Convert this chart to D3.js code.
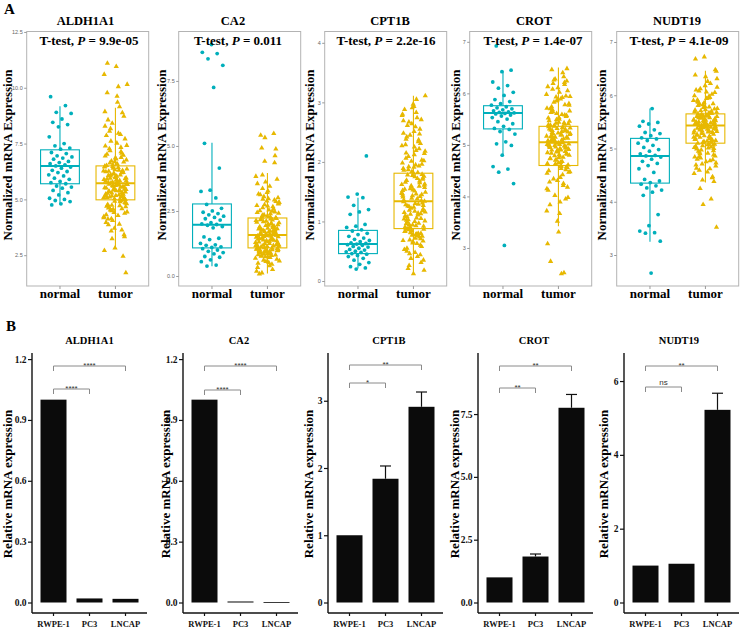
<!DOCTYPE html>
<html><head><meta charset="utf-8">
<script src="https://cdn.jsdelivr.net/npm/d3@7"></script>
<style>body{margin:0;background:#fff}</style>
</head><body><svg id="c" width="740" height="628"></svg>
<script>
// ---------------- DATA ----------------
const genes = ["ALDH1A1","CA2","CPT1B","CROT","NUDT19"];
const groups = ["normal","tumor"];
const pValues = ["9.9e-05","0.011","2.2e-16","1.4e-07","4.1e-09"];
const topTicks = [[2.5,5,7.5,10,12.5],[0,2.5,5,7.5],[0,1,2,3,4],[3,4,5,6,7],[3,4,5,6,7]];
const topTickFmt = [".1f",".1f","d","d","d"];

// box stats: [whiskerLow, Q1, median, Q3, whiskerHigh]
const boxNormal = [[4.76,5.7,6.5,7.22,9.17],[0.37,1.08,1.97,2.77,5.12],[0.21,0.46,0.62,0.85,1.4],[4.81,5.31,5.62,5.76,6.44],[3.25,4.35,4.86,5.19,5.75]];
const boxTumor  = [[2.78,4.98,5.72,6.5,9.1],[0.1,1.08,1.58,2.23,3.96],[0.12,0.88,1.34,1.81,3.11],[3.42,4.6,5.05,5.36,6.5],[4.36,5.1,5.43,5.65,6.46]];

const normal_ALDH1A1 = [9.6,9.2,8.9,8.85,8.6,8.45,8.35,8.25,7.8,7.5,7.4,7.3,7.25,7.1,7.05,6.95,6.9,6.85,6.8,6.7,6.65,6.6,6.55,6.5,6.45,6.4,6.3,6.25,6.2,6.1,6.05,5.95,5.9,5.8,5.75,5.7,5.6,5.55,5.5,5.4,5.3,5.2,5.05,5.0,4.95,4.9,4.8,4.75];
const tumor_ALDH1A1 = [5.62,4.31,6.88,5.15,7.42,5.78,3.86,6.21,5.49,8.93,4.72,6.05,5.33,10.95,5.91,4.58,6.47,5.07,7.96,5.68,3.42,6.33,5.24,4.95,6.72,5.83,9.62,4.12,5.56,6.14,2.71,5.41,7.18,4.86,5.97,6.52,5.12,8.41,4.44,5.71,6.26,5.02,3.71,6.94,5.38,7.61,4.67,5.88,11.1,5.19,6.39,4.23,5.64,8.05,5.46,6.01,3.97,7.33,5.29,4.81,6.58,5.75,2.45,6.17,5.52,9.15,4.53,5.93,6.81,5.09,7.07,4.05,5.67,6.43,5.36,8.72,4.92,5.81,6.09,3.58,5.44,7.52,4.77,6.29,5.59,10.6,5.21,6.63,4.38,5.98,7.86,5.14,3.24,6.36,5.72,4.61,6.98,5.48,8.28,5.01,6.11,4.84,5.86,9.78,5.31,6.55,4.18,5.66,7.27,5.06,2.82,6.24,5.55,4.49,6.77,5.79,8.56,4.97,5.42,6.45,3.89,5.95,7.71,5.17,4.69,6.19,5.61,10.15,4.28,5.35,6.67,5.03,7.39,4.89,5.74,1.71,6.04,5.27,8.88,4.56,5.89,6.31,5.11,3.33,6.86,5.51,7.14,4.74,5.69,9.35,6.07,5.23,4.41,6.49,5.84,8.17,4.99,5.39,7.02,3.63,5.77,6.27,10.05,4.64,5.58,6.69,5.18,7.91,4.13,5.96];
const normal_CA2 = [8.9,8.6,8.55,8.35,8.1,7.25,5.1,4.15,3.3,3.25,3.0,2.75,2.6,2.5,2.45,2.4,2.35,2.3,2.25,2.2,2.15,2.05,2.0,1.98,1.95,1.9,1.85,1.5,1.45,1.4,1.25,1.2,1.18,1.12,1.1,1.05,1.0,0.95,0.9,0.85,0.75,0.72,0.62,0.55,0.42,0.38];
const tumor_CA2 = [1.62,0.84,2.41,1.25,3.12,1.78,0.56,2.07,1.43,3.88,0.97,1.95,1.31,5.48,1.71,0.68,2.28,1.12,2.86,1.55,0.33,2.15,1.38,1.02,2.54,1.83,4.35,0.74,1.49,2.01,0.12,1.36,2.69,1.08,1.88,2.35,1.19,3.45,0.89,1.66,2.11,1.04,0.45,2.62,1.28,2.97,0.93,1.74,5.32,1.16,2.19,0.78,1.58,3.21,1.41,1.92,0.61,2.77,1.33,0.99,2.46,1.61,0.18,2.03,1.47,3.72,0.87,1.81,2.58,1.09,2.83,0.71,1.64,2.24,1.35,3.55,1.01,1.76,1.97,0.52,1.44,2.92,0.95,2.13,1.53,4.92,1.21,2.31,0.82,1.86,3.05,1.14,0.39,2.16,1.69,0.91,2.71,1.46,3.36,1.06,1.99,0.97,1.79,4.41,1.29,2.39,0.76,1.57,2.88,1.11,0.25,2.09,1.51,0.86,2.51,1.73,3.61,1.03,1.39,2.26,0.64,1.84,3.15,1.17,0.93,2.05,1.59,5.41,0.81,1.34,2.44,1.07,2.95,0.98,1.68,0.08,1.91,1.24,3.83,0.88,1.77,2.21,1.13,0.49,2.66,1.52,2.81,0.94,1.63,4.62,1.94,1.22,0.79,2.33,1.82,3.27,1.05,1.37,2.74,0.58,1.72,2.18,4.88,0.96,1.54,2.49,1.18,3.01,0.72,1.89];
const normal_CPT1B = [2.1,1.46,1.41,1.4,1.27,1.2,1.16,1.12,0.95,0.92,0.9,0.86,0.84,0.8,0.78,0.75,0.72,0.7,0.68,0.66,0.64,0.63,0.62,0.61,0.6,0.58,0.57,0.55,0.53,0.52,0.5,0.49,0.48,0.46,0.45,0.43,0.41,0.38,0.35,0.31,0.28,0.24,0.22,0.2];
const tumor_CPT1B = [1.34,0.72,2.15,1.05,2.64,1.52,0.41,1.87,1.21,2.93,0.83,1.68,1.12,3.11,1.46,0.55,2.03,0.94,2.48,1.29,0.26,1.76,1.17,0.89,2.31,1.58,2.78,0.63,1.26,1.71,0.12,1.15,2.22,0.91,1.63,1.95,1.02,2.71,0.77,1.41,1.82,0.86,0.35,2.12,1.09,2.55,0.81,1.48,3.05,0.99,1.79,0.66,1.36,2.37,1.19,1.61,0.48,2.06,1.13,0.85,1.98,1.38,0.21,1.73,1.24,2.88,0.74,1.55,2.18,0.93,2.42,0.58,1.43,1.89,1.14,2.67,0.87,1.51,1.66,0.44,1.22,2.27,0.79,1.78,1.31,2.97,1.04,1.93,0.69,1.57,2.59,0.96,0.31,1.84,1.44,0.76,2.09,1.27,2.51,0.9,1.65,0.82,1.49,2.83,1.08,1.96,0.64,1.33,2.34,0.95,0.18,1.75,1.28,0.71,2.01,1.47,2.74,0.88,1.18,1.81,0.53,1.59,2.45,1.01,0.78,1.69,1.35,2.91,0.68,1.11,1.92,0.92,2.25,0.84,1.42,0.38,1.62,1.06,2.61,0.75,1.53,1.86,0.97,0.46,2.14,1.3,2.38,0.8,1.39,2.8,1.72,1.03,0.67,1.91,1.54,2.47,0.89,1.16,2.19,0.5,1.45,1.77,2.69,0.8,1.25,2.02,1.0,2.29,0.6,1.6];
const normal_CROT = [6.92,6.45,6.42,6.22,6.15,6.1,6.02,5.96,5.88,5.84,5.8,5.77,5.74,5.72,5.7,5.68,5.66,5.64,5.63,5.62,5.61,5.6,5.58,5.56,5.53,5.5,5.45,5.41,5.36,5.32,5.3,5.26,5.21,5.06,5.02,4.99,4.8,4.58,4.53,4.47,4.25,3.05];
const tumor_CROT = [5.08,4.52,5.61,4.85,5.92,5.21,3.98,5.44,4.97,6.21,4.63,5.33,4.9,6.46,5.15,4.31,5.52,4.76,5.83,5.02,3.67,5.38,4.94,4.71,5.71,5.26,6.08,4.18,5.04,5.47,2.52,4.99,5.66,4.66,5.18,5.55,4.88,6.13,4.42,5.11,5.41,4.81,3.84,5.58,4.96,5.98,4.59,5.24,6.48,4.87,5.35,4.25,5.07,5.77,4.93,5.29,3.95,5.49,5.01,4.68,5.64,5.13,3.31,5.31,4.98,6.28,4.48,5.19,5.74,4.83,5.87,4.12,5.06,5.36,4.91,6.02,4.74,5.27,5.42,3.72,5.09,5.68,4.56,5.23,5.0,6.32,4.79,5.46,4.37,5.16,5.95,4.86,3.08,5.34,5.12,4.61,5.53,4.95,6.17,4.7,5.22,4.54,5.05,6.24,4.89,5.39,4.21,5.1,5.8,4.78,2.74,5.3,5.03,4.45,5.59,5.14,6.05,4.65,4.99,5.43,4.02,5.2,5.89,4.84,4.57,5.32,5.08,6.4,4.34,4.92,5.5,4.73,5.78,4.62,5.17,2.5,5.28,4.82,6.11,4.5,5.12,5.37,4.8,3.89,5.63,4.97,5.85,4.64,5.04,6.19,5.25,4.75,4.28,5.4,5.15,5.94,4.58,4.9,5.57,3.52,5.07,5.33,6.26,4.47,5.01,5.7,4.87,5.93,4.15,5.19];
const normal_NUDT19 = [5.75,5.51,5.49,5.46,5.42,5.35,5.3,5.28,5.24,5.2,5.18,5.15,5.1,5.06,5.02,4.98,4.95,4.9,4.87,4.86,4.84,4.8,4.76,4.72,4.68,4.62,4.55,4.42,4.39,4.36,4.33,4.3,4.26,4.22,4.18,4.12,3.76,3.55,3.45,3.42,3.41,3.26,2.66];
const tumor_NUDT19 = [5.44,5.02,5.78,5.21,6.05,5.53,4.63,5.66,5.33,6.31,4.91,5.58,5.27,6.72,5.47,4.77,5.71,5.15,5.94,5.38,4.45,5.62,5.29,5.09,5.83,5.49,6.18,4.69,5.4,5.64,3.52,5.36,5.81,5.06,5.5,5.69,5.23,6.12,4.86,5.46,5.6,5.12,4.41,5.75,5.31,6.08,5.0,5.55,6.68,5.19,5.57,4.73,5.42,5.88,5.3,5.52,4.53,5.67,5.35,5.08,5.73,5.45,4.05,5.59,5.32,6.26,4.95,5.51,5.86,5.17,5.96,4.82,5.41,5.63,5.26,6.02,5.11,5.54,5.61,4.59,5.37,5.79,5.04,5.48,5.43,6.45,5.14,5.65,4.79,5.39,5.99,5.22,4.25,5.56,5.44,4.99,5.7,5.28,6.15,5.07,5.5,4.88,5.41,6.38,5.2,5.62,4.67,5.46,5.91,5.16,3.95,5.53,5.34,4.93,5.74,5.47,6.1,5.03,5.29,5.68,4.56,5.45,5.84,5.13,4.84,5.58,5.39,6.48,4.75,5.25,5.66,5.05,5.9,5.01,5.43,4.38,5.55,5.18,6.22,4.97,5.36,5.61,5.1,4.47,5.77,5.33,5.98,4.9,5.4,6.35,5.49,5.15,4.71,5.6,5.42,5.87,4.96,5.24,5.72,4.62,5.38,5.52,6.06,4.8,5.3,5.82,5.21,5.95,4.85,5.47];

const normalPoints = [normal_ALDH1A1, normal_CA2, normal_CPT1B, normal_CROT, normal_NUDT19];
const tumorPoints = [tumor_ALDH1A1, tumor_CA2, tumor_CPT1B, tumor_CROT, tumor_NUDT19];

const cellLines = ["RWPE-1","PC3","LNCAP"];
const relExpr = [[1,0.02,0.018],[1,0.005,0.002],[1,1.84,2.91],[1,1.83,7.75],[1,1.05,5.22]];
const relErr  = [[0,0.003,0.003],[0,0.001,0],[0,0.19,0.22],[0,0.1,0.53],[0,0.04,0.45]];
const sigLNCAP = ["****","****","**","**","**"]; // RWPE-1 vs LNCAP
const sigPC3   = ["****","****","*","**","ns"];  // RWPE-1 vs PC3
const botTicks = [[0,0.3,0.6,0.9,1.2],[0,0.3,0.6,0.9,1.2],[0,1,2,3],[0,2.5,5,7.5],[0,2,4,6]];
const botTickFmt = [".1f",".1f","d",".1f","d"];

// ---------------- LAYOUT ----------------
const svg = d3.select("#c");
const serif = "'Liberation Serif','Times New Roman',serif";
const sans = "'Liberation Sans',Arial,sans-serif";
const colN = "#00AFBB", colT = "#E7B800";

const topL = {left:[26.7,178.7,324.7,469.7,616.7], w:122, y0:286, y1:31.5,
  dom:[[1.12,12.52],[-0.385,9.40],[-0.084,4.19],[2.262,7.20],[2.418,7.197]],
  titleX:[85.5,233,390,534,677], testX:[89,238,386,533,679], yTitleX:[11.5,166,314,460,606]};

svg.append("text").attr("x",4).attr("y",14).attr("font-family",serif).attr("font-weight","bold").attr("font-size",15).text("A");
svg.append("text").attr("x",6).attr("y",331).attr("font-family",serif).attr("font-weight","bold").attr("font-size",15).text("B");

genes.forEach((g,i)=>{
  const L = topL.left[i];
  const x = d3.scalePoint().domain(groups).range([L + topL.w*0.6/2.2, L + topL.w*1.6/2.2]);
  const cx = k => x(groups[k]);
  const bw = topL.w*0.7/2.2;
  const y = d3.scaleLinear().domain(topL.dom[i]).range([topL.y0, topL.y1]);
  const gp = svg.append("g");
  gp.append("rect").attr("x",L).attr("y",topL.y1).attr("width",topL.w).attr("height",topL.y0-topL.y1)
    .attr("fill","none").attr("stroke","#b3b3b3").attr("stroke-width",1);
  const ya = d3.axisLeft(y).tickValues(topTicks[i]).tickFormat(d3.format(topTickFmt[i])).tickSize(2.5).tickPadding(1.5);
  const yg = gp.append("g").attr("transform",`translate(${L},0)`).call(ya);
  yg.select(".domain").remove();
  yg.selectAll("line").attr("stroke","#999");
  yg.selectAll("text").attr("font-family",sans).attr("font-size",5.5).attr("fill","#666");
  [0,1].forEach(k=>{
    gp.append("line").attr("x1",cx(k)).attr("x2",cx(k)).attr("y1",topL.y0).attr("y2",topL.y0+3).attr("stroke","#999");
    gp.append("text").attr("x",cx(k)).attr("y",298).attr("text-anchor","middle")
      .attr("font-family",serif).attr("font-weight","bold").attr("font-size",13).text(groups[k]);
  });
  [boxNormal[i], boxTumor[i]].forEach((b,k)=>{
    const c = k===0?colN:colT, xc = cx(k);
    gp.append("line").attr("x1",xc).attr("x2",xc).attr("y1",y(b[0])).attr("y2",y(b[1])).attr("stroke",c).attr("stroke-width",1.1);
    gp.append("line").attr("x1",xc).attr("x2",xc).attr("y1",y(b[3])).attr("y2",y(b[4])).attr("stroke",c).attr("stroke-width",1.1);
    gp.append("rect").attr("x",xc-bw/2).attr("y",y(b[3])).attr("width",bw).attr("height",y(b[1])-y(b[3]))
      .attr("fill","#fff").attr("stroke",c).attr("stroke-width",1.1);
    gp.append("line").attr("x1",xc-bw/2).attr("x2",xc+bw/2).attr("y1",y(b[2])).attr("y2",y(b[2])).attr("stroke",c).attr("stroke-width",2);
  });
  const jit = (j,s) => (((j*0.6180339887 + s) % 1) - 0.5) * 24;
  gp.append("g").selectAll("circle").data(normalPoints[i]).join("circle")
    .attr("cx",(d,j)=>cx(0)+jit(j,0.37*i+0.11)).attr("cy",d=>y(d)).attr("r",1.9).attr("fill",colN);
  const tri = d3.symbol().type(d3.symbolTriangle).size(12);
  gp.append("g").selectAll("path").data(tumorPoints[i]).join("path")
    .attr("d",tri).attr("transform",(d,j)=>`translate(${cx(1)+jit(j,0.23*i+0.5)},${y(d)})`).attr("fill",colT);
  gp.append("text").attr("x",topL.titleX[i]).attr("y",25).attr("text-anchor","middle")
    .attr("font-family",serif).attr("font-weight","bold").attr("font-size",12.5).text(g);
  const tt = gp.append("text").attr("x",topL.testX[i]).attr("y",45).attr("text-anchor","middle")
    .attr("font-family",serif).attr("font-weight","bold").attr("font-size",13);
  tt.append("tspan").text("T-test, ");
  tt.append("tspan").attr("font-style","italic").text("P");
  tt.append("tspan").text(" = " + pValues[i]);
  gp.append("text").attr("transform",`translate(${topL.yTitleX[i]},155) rotate(-90)`).attr("text-anchor","middle")
    .attr("font-family",serif).attr("font-weight","bold").attr("font-size",13).text("Normalized mRNA Expression");
});

// ---------------- BOTTOM ROW ----------------
const bot = {axisX:[32,183,328,478,624], y0:602.5, y1:353, xAxisY:613,
  max:[1.23,1.23,3.71,9.93,6.76], titleX:[89.5,239,389,534,679], yTitleX:[12,170,313,459,608],
  bTop:[366,366,365,366,366], bLow:[389,390,383,388,387]};

genes.forEach((g,i)=>{
  const A = bot.axisX[i];
  const x = d3.scalePoint().domain(cellLines).range([A+21.5, A+93.5]);
  const y = d3.scaleLinear().domain([0,bot.max[i]]).range([bot.y0, bot.y1]);
  const gp = svg.append("g");
  gp.append("line").attr("x1",A).attr("x2",A).attr("y1",bot.y1).attr("y2",bot.xAxisY).attr("stroke","#111").attr("stroke-width",1.4);
  gp.append("line").attr("x1",A).attr("x2",A+115).attr("y1",bot.xAxisY).attr("y2",bot.xAxisY).attr("stroke","#111").attr("stroke-width",1.4);
  const ya = d3.axisLeft(y).tickValues(botTicks[i]).tickFormat(d3.format(botTickFmt[i])).tickSize(4).tickPadding(1.5);
  const yg = gp.append("g").attr("transform",`translate(${A},0)`).call(ya);
  yg.select(".domain").remove();
  yg.selectAll("line").attr("stroke","#111").attr("stroke-width",1.2);
  yg.selectAll("text").attr("font-family",serif).attr("font-weight","bold").attr("font-size",9.5).attr("fill","#111");
  cellLines.forEach(c=>{
    gp.append("line").attr("x1",x(c)).attr("x2",x(c)).attr("y1",bot.xAxisY).attr("y2",bot.xAxisY+3).attr("stroke","#111").attr("stroke-width",1.2);
    gp.append("text").attr("x",x(c)).attr("y",627).attr("text-anchor","middle")
      .attr("font-family",serif).attr("font-weight","bold").attr("font-size",8.5).attr("fill","#111").text(c);
  });
  cellLines.forEach((c,k)=>{
    const v = relExpr[i][k], e = relErr[i][k];
    gp.append("rect").attr("x",x(c)-13).attr("width",26).attr("y",y(v)).attr("height",Math.max(0.8,y(0)-y(v)))
      .attr("fill","#0b0b0b");
    if (e>0 && y(v)-y(v+e) > 1.5){
      gp.append("line").attr("x1",x(c)).attr("x2",x(c)).attr("y1",y(v)).attr("y2",y(v+e)).attr("stroke","#111").attr("stroke-width",1.2);
      gp.append("line").attr("x1",x(c)-5.5).attr("x2",x(c)+5.5).attr("y1",y(v+e)).attr("y2",y(v+e)).attr("stroke","#111").attr("stroke-width",1.2);
    }
  });
  const br = (x1,x2,yy,lab)=>{
    gp.append("path").attr("d",`M${x1},${yy+5}V${yy}H${x2}V${yy+5}`).attr("fill","none").attr("stroke","#8a8a8a").attr("stroke-width",1);
    gp.append("text").attr("x",(x1+x2)/2).attr("y",lab==="ns"?yy-2:yy+1.5).attr("text-anchor","middle")
      .attr("font-family",sans).attr("font-size",8).attr("fill","#333").text(lab);
  };
  br(x(cellLines[0]), x(cellLines[2]), bot.bTop[i], sigLNCAP[i]);
  br(x(cellLines[0]), x(cellLines[1]), bot.bLow[i], sigPC3[i]);
  gp.append("text").attr("x",bot.titleX[i]).attr("y",344).attr("text-anchor","middle")
    .attr("font-family",serif).attr("font-weight","bold").attr("font-size",10.5).text(g);
  gp.append("text").attr("transform",`translate(${bot.yTitleX[i]},484) rotate(-90)`).attr("text-anchor","middle")
    .attr("font-family",serif).attr("font-weight","bold").attr("font-size",13).text("Relative mRNA expression");
});
</script></body></html>
